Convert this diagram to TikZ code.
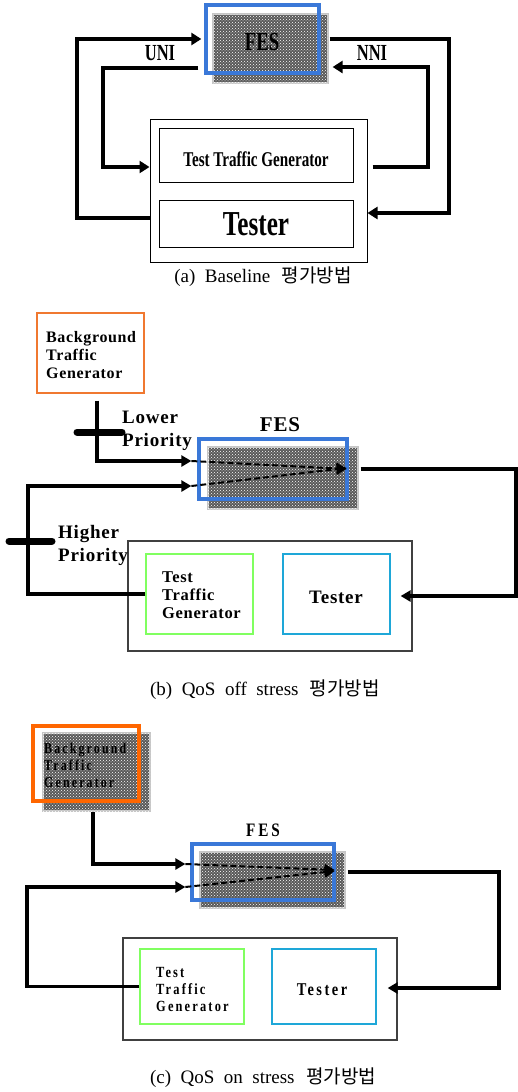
\documentclass[tikz,border=0pt]{standalone}
\usepackage{fontspec}
\setmainfont{Liberation Serif}
\newfontfamily\condA[FakeStretch=0.72]{Liberation Serif}
\newfontfamily\spB[LetterSpace=4]{Liberation Serif}
\newfontfamily\spC[FakeStretch=0.8,LetterSpace=14]{Liberation Serif}
\newfontfamily\kr{Noto Sans CJK KR}
\usetikzlibrary{arrows.meta,patterns}
\definecolor{fesblue}{RGB}{58,120,216}
\definecolor{bgorange}{RGB}{240,120,48}
\definecolor{bgorangeC}{RGB}{255,102,0}
\definecolor{ttggreen}{RGB}{128,255,96}
\definecolor{tstcyan}{RGB}{30,167,216}
\tikzset{
  plainbox/.style={draw, line width=1pt, inner sep=0pt},
  bluebox/.style={draw=fesblue, line width=3.3pt, inner sep=0pt},
  graybox/.style={draw=gray!45, line width=1.2pt, fill=black!65, inner sep=0pt,
    postaction={pattern=crosshatch dots, pattern color=white}},
  lbl/.style={inner sep=0pt},
  arrA/.style={line width=3.5pt, -{Triangle[length=10pt,width=12pt]}},
  lineA/.style={line width=3.5pt},
  arrB/.style={line width=3.3pt, -{Triangle[length=10pt,width=11pt]}},
  lineB/.style={line width=3.3pt},
  dasharr/.style={line width=2pt, dash pattern=on 6pt off 3pt, -{Triangle[length=10pt,width=11pt]}},
  bar/.style={line width=7pt, line cap=round},
  caption/.style={inner sep=0pt, font=\fontsize{19}{22}\selectfont},
}
\begin{document}
\begin{tikzpicture}[x=1pt,y=-1pt]
\useasboundingbox (0,0) rectangle (517,1092);

%% ---------------- (a) ----------------
\node[graybox, minimum width=115, minimum height=69] (grayA) at (270.5,48.5) {};
\node[bluebox, minimum width=113, minimum height=68] (fesA) at (262.5,39) {};
\node[lbl, font=\condA\bfseries\fontsize{26}{30}\selectfont] (fesAt) at (262,42) {FES};
\node[plainbox, minimum width=217, minimum height=143] (outerA) at (258.5,190.5) {};
\node[plainbox, minimum width=194, minimum height=54] (ttgA) at (256,155) {};
\node[lbl, font=\condA\bfseries\fontsize{21}{24}\selectfont] (ttgAt) at (256,159) {Test Traffic Generator};
\node[plainbox, minimum width=194, minimum height=47] (testerA) at (256,223.5) {};
\node[lbl, font=\condA\bfseries\fontsize{35}{40}\selectfont] (testerAt) at (256,224) {Tester};
\node[lbl, font=\condA\bfseries\fontsize{23}{26}\selectfont] (uni) at (160,53) {UNI};
\node[lbl, font=\condA\bfseries\fontsize{23}{26}\selectfont] (nni) at (372,53) {NNI};

\draw[arrA] (outerA.west |- 0,218) -| (77,39) -- ([xshift=-3pt]fesA.west |- 0,39);
\draw[arrA] ([xshift=-6pt]fesA.west |- 0,68) -| (103,167) -- (outerA.west |- 0,167);
\draw[arrA] ([xshift=1pt]grayA.east |- 0,39) -| (449,213) -- (outerA.east |- 0,213);
\draw[arrA] ([xshift=5pt]outerA.east |- 0,167) -| (428,67) -- ([xshift=4pt]grayA.east |- 0,67);

\node[caption] (capA) at (263,277) {(a)\hspace{0.5em}Baseline\hspace{0.6em}{\kr 평가방법}};

%% ---------------- (b) ----------------
\node[draw=bgorange, line width=1.3pt, inner sep=0pt, minimum width=107, minimum height=80] (btgB) at (90.5,353) {};
\node[lbl, anchor=west, align=left, font=\spB\bfseries\fontsize{16}{18}\selectfont] (btgBt) at (46,355) {Background\\Traffic\\Generator};
\node[lbl, font=\spB\bfseries\fontsize{21}{24}\selectfont] (fesBt) at (280,425) {FES};
\node[graybox, minimum width=150, minimum height=62] (grayB) at (283,478) {};
\node[bluebox, minimum width=148, minimum height=60] (fesB) at (273,469) {};
\node[draw=black!75, line width=1.3pt, inner sep=0pt, minimum width=284, minimum height=110] (outerB) at (270,596) {};
\node[draw=ttggreen, line width=1.3pt, inner sep=0pt, minimum width=107, minimum height=80] (ttgB) at (199.5,594) {};
\node[draw=tstcyan, line width=1.3pt, inner sep=0pt, minimum width=107, minimum height=80] (testerB) at (336.5,594) {};
\node[lbl, anchor=west, align=left, font=\spB\bfseries\fontsize{16.5}{18}\selectfont] (ttgBt) at (162,595) {Test\\Traffic\\Generator};
\node[lbl, font=\spB\bfseries\fontsize{19}{22}\selectfont] (testerBt) at (336,597) {Tester};
\node[lbl, anchor=west, align=left, font=\spB\bfseries\fontsize{19}{23}\selectfont] (lowB) at (122,431) {Lower\\Priority};
\node[lbl, anchor=west, align=left, font=\spB\bfseries\fontsize{19}{23}\selectfont] (highB) at (58,545) {Higher\\Priority};
\coordinate (inB1) at ([xshift=-6pt]fesB.west |- 0,461);
\coordinate (inB2) at ([xshift=-6pt]fesB.west |- 0,486);
\coordinate (fesBtip) at ([xshift=-2pt]fesB.east |- 0,467);

\draw[arrB] ([xshift=6.5pt,yshift=-7pt]btgB.south) |- (inB1);
\draw[arrB] (ttgB.west) -| (28,486) -- (inB2);
\draw[arrB] ([xshift=2pt]grayB.east |- 0,469) -| (516,596) -- ([xshift=-12pt]outerB.east |- 0,596);
\draw[dasharr] (inB1) -- ([yshift=-2pt]fesBtip);
\draw[dasharr] (inB2) -- ([yshift=-1pt]fesBtip);
\draw[bar] (77,432) -- (122,432);
\draw[bar] (9,541) -- (52,541);

\node[caption] (capB) at (265,690) {(b)\hspace{0.5em}QoS\hspace{0.5em}off\hspace{0.5em}stress\hspace{0.6em}{\kr 평가방법}};

%% ---------------- (c) ----------------
\node[graybox, minimum width=107, minimum height=78] (grayC) at (96.5,772) {};
\node[draw=bgorangeC, line width=4.5pt, inner sep=0pt, minimum width=106, minimum height=75] (btgC) at (86,763.5) {};
\node[lbl, anchor=west, align=left, font=\spC\bfseries\fontsize{15}{17}\selectfont] (btgCt) at (44,765) {Background\\Traffic\\Generator};
\node[lbl, font=\spC\bfseries\fontsize{19}{22}\selectfont] (fesCt) at (263,830) {F\kern3pt E\kern3pt S};
\node[graybox, minimum width=145, minimum height=56] (grayC2) at (272.5,880) {};
\node[bluebox, minimum width=142, minimum height=56] (fesC) at (263,872) {};
\node[draw=black!75, line width=1.3pt, inner sep=0pt, minimum width=274, minimum height=102] (outerC) at (260,989) {};
\node[draw=ttggreen, line width=1.3pt, inner sep=0pt, minimum width=104, minimum height=75] (ttgC) at (192,986.5) {};
\node[draw=tstcyan, line width=1.3pt, inner sep=0pt, minimum width=104, minimum height=75] (testerC) at (324,986.5) {};
\node[lbl, anchor=west, align=left, font=\spC\bfseries\fontsize{15.5}{17}\selectfont] (ttgCt) at (156,989) {Test\\Traffic\\Generator};
\node[lbl, font=\spC\bfseries\fontsize{18}{21}\selectfont] (testerCt) at (322,990) {Tester};
\coordinate (inC1) at ([xshift=-5pt]fesC.west |- 0,864);
\coordinate (inC2) at ([xshift=-5pt]fesC.west |- 0,887);
\coordinate (fesCtip) at ([xshift=-1pt]fesC.east |- 0,871);

\draw[arrB] ([xshift=-3.5pt]grayC.south) |- (inC1);
\draw[arrB] (ttgC.west) -| (27,887) -- (inC2);
\draw[arrB] ([xshift=2pt]grayC2.east |- 0,872) -| (499,988) -- ([xshift=-10pt]outerC.east |- 0,988);
\draw[dasharr] (inC1) -- ([yshift=1pt]fesCtip);
\draw[dasharr] (inC2) -- ([yshift=0pt]fesCtip);

\node[caption] (capC) at (263,1078) {(c)\hspace{0.5em}QoS\hspace{0.5em}on\hspace{0.5em}stress\hspace{0.6em}{\kr 평가방법}};
\end{tikzpicture}
\end{document}
